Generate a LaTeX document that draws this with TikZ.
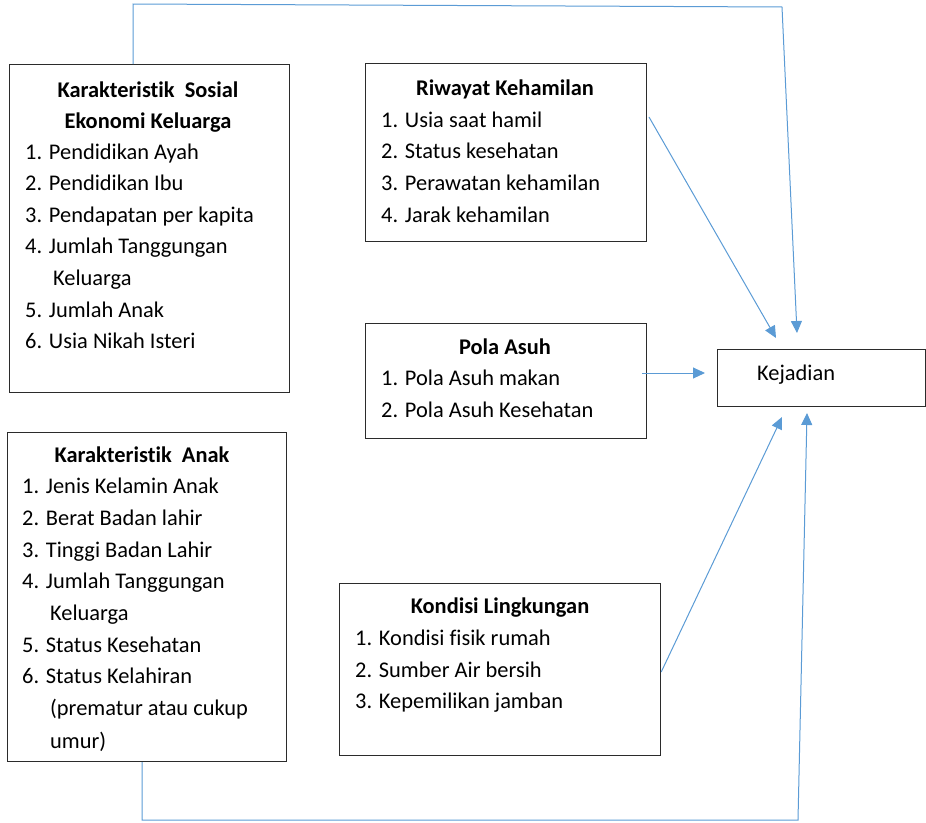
\documentclass[tikz,border=0pt]{standalone}
\usepackage{fontspec}
\setmainfont{Carlito}[Ligatures=NoCommon]
\usetikzlibrary{arrows.meta}
\definecolor{linkblue}{HTML}{5B9BD5}
\definecolor{framegray}{HTML}{2B2B2B}
\tikzset{
  box/.style={draw=framegray, line width=1.2pt, fill=white, inner sep=0pt},
  head/.style={font=\fontsize{22.4}{26}\selectfont\bfseries, anchor=base, inner sep=0pt},
  item/.style={font=\fontsize{22.4}{26}\selectfont, anchor=base west, inner sep=0pt},
  link/.style={draw=linkblue, line width=1pt, -{Triangle[length=12pt,width=11pt]}},
}
\newcommand{\boxat}[5]{% name, x1, y1, x2, y2
  \node[box, minimum width={#4-#2}, minimum height={#5-#3}, anchor=north west] (#1) at (#2,#3) {};}
\begin{document}
\begin{tikzpicture}[x=1pt,y=-1pt]
\useasboundingbox (0,0) rectangle (926,822);

% boxes
\boxat{sosial}{9}{64}{289}{392}
\boxat{riwayat}{365}{63}{646}{241}
\boxat{pola}{365}{323}{646}{438}
\boxat{kejadian}{717}{349}{925}{406}
\boxat{anak}{7}{432}{286}{761}
\boxat{kondisi}{339}{583}{660}{755}

% Karakteristik Sosial Ekonomi Keluarga
\node[head] (sosialH1) at (148,97) {Karakteristik\ \ Sosial};
\node[head] (sosialH2) at (148,128) {Ekonomi Keluarga};
\node[item] (sosial1) at (25,159) {1. Pendidikan Ayah};
\node[item] (sosial2) at (25,190) {2. Pendidikan Ibu};
\node[item] (sosial3) at (25,222) {3. Pendapatan per kapita};
\node[item] (sosial4) at (25,253) {4. Jumlah Tanggungan};
\node[item] (sosial4b) at (53,285) {Keluarga};
\node[item] (sosial5) at (25,317) {5. Jumlah Anak};
\node[item] (sosial6) at (25,348) {6. Usia Nikah Isteri};

% Riwayat Kehamilan
\node[head] (riwayatH) at (505,95) {Riwayat Kehamilan};
\node[item] (riwayat1) at (381,127) {1. Usia saat hamil};
\node[item] (riwayat2) at (381,158) {2. Status kesehatan};
\node[item] (riwayat3) at (381,190) {3. Perawatan kehamilan};
\node[item] (riwayat4) at (381,222) {4. Jarak kehamilan};

% Pola Asuh
\node[head] (polaH) at (505,354) {Pola Asuh};
\node[item] (pola1) at (381,385) {1. Pola Asuh makan};
\node[item] (pola2) at (381,417) {2. Pola Asuh Kesehatan};

% Kejadian
\node[item] (kejadianT) at (757,380) {Kejadian};

% Karakteristik Anak
\node[head] (anakH) at (142,462) {Karakteristik\ \ Anak};
\node[item] (anak1) at (22,493) {1. Jenis Kelamin Anak};
\node[item] (anak2) at (22,525) {2. Berat Badan lahir};
\node[item] (anak3) at (22,557) {3. Tinggi Badan Lahir};
\node[item] (anak4) at (22,588) {4. Jumlah Tanggungan};
\node[item] (anak4b) at (50,620) {Keluarga};
\node[item] (anak5) at (22,652) {5. Status Kesehatan};
\node[item] (anak6) at (22,683) {6. Status Kelahiran};
\node[item] (anak6b) at (50,715) {(prematur atau cukup};
\node[item] (anak6c) at (50,748) {umur)};

% Kondisi Lingkungan
\node[head] (kondisiH) at (500,613) {Kondisi Lingkungan};
\node[item] (kondisi1) at (355,645) {1. Kondisi fisik rumah};
\node[item] (kondisi2) at (355,677) {2. Sumber Air bersih};
\node[item] (kondisi3) at (355,708) {3. Kepemilikan jamban};

% connector end points
\coordinate (sosialOut) at (sosial.north -| 133,0);
\coordinate (topLeft) at (133,4);
\coordinate (topRight) at (782,7);
\coordinate (inTop) at (797,333);
\coordinate (riwayatOut) at (649,117);
\coordinate (inRiwayat) at (776,338);
\coordinate (polaOut) at (642,373);
\coordinate (inPola) at (705,373);
\coordinate (kondisiOut) at (kondisi.east |- 0,672);
\coordinate (inKondisi) at (782,417);
\coordinate (anakOut) at (anak.south -| 142,0);
\coordinate (botLeft) at (142,820);
\coordinate (botRight) at (798,820);
\coordinate (inBottom) at (807,413);

% connectors
\draw[link] (sosialOut) -- (topLeft) -- (topRight) -- (inTop);
\draw[link] (riwayatOut) -- (inRiwayat);
\draw[link] (polaOut) -- (inPola);
\draw[link] (kondisiOut) -- (inKondisi);
\draw[link] (anakOut) -- (botLeft) -- (botRight) -- (inBottom);
\end{tikzpicture}
\end{document}
